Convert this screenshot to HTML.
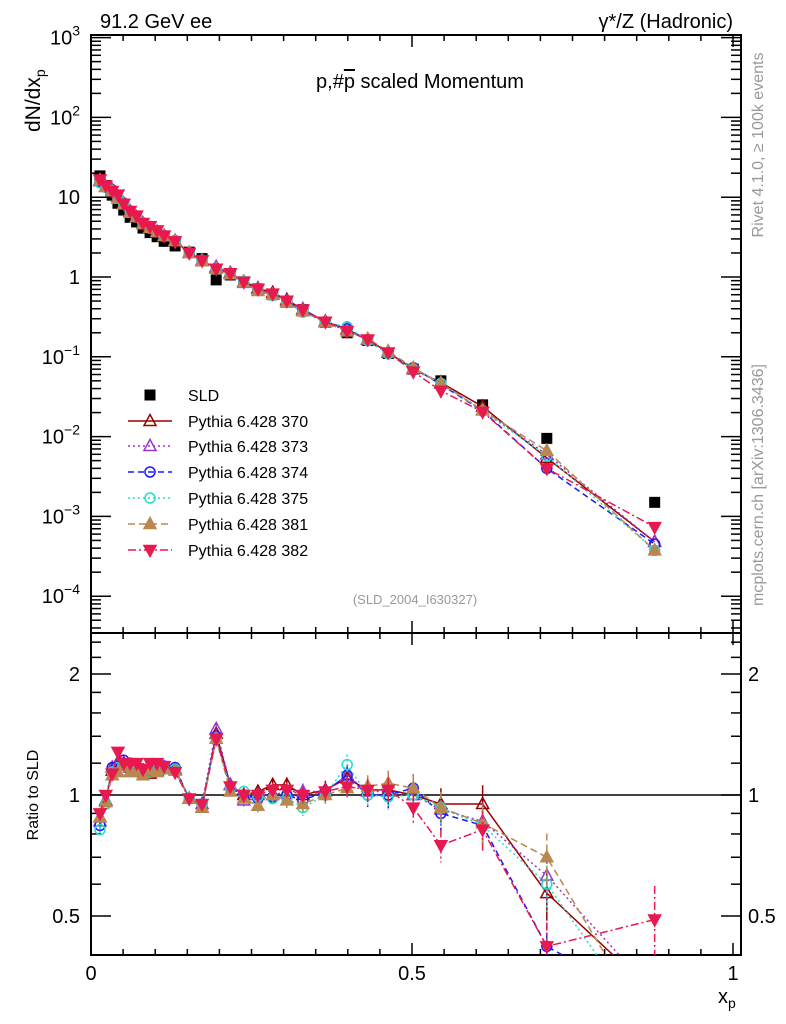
<!DOCTYPE html>
<html><head><meta charset="utf-8"><style>
html,body{margin:0;padding:0;background:#fff;width:786px;height:1024px;overflow:hidden}
svg{display:block;font-family:"Liberation Sans",sans-serif}
</style></head><body>
<svg id="c" width="786" height="1024" viewBox="0 0 786 1024">
<defs>
<clipPath id="cm"><rect x="91" y="35" width="650" height="598"/></clipPath>
<clipPath id="cr"><rect x="91" y="633" width="650" height="322"/></clipPath>
</defs>
<g id="axes"></g>
<g id="main" clip-path="url(#cm)"></g>
<g id="ratio" clip-path="url(#cr)"></g>
<g id="legend"></g>
<text x="100" y="28" font-size="20">91.2 GeV ee</text>
<text x="733" y="28" font-size="20" text-anchor="end">γ*/Z (Hadronic)</text>
<text x="420" y="88" font-size="20" text-anchor="middle">p,#<tspan text-decoration="overline">p</tspan> scaled Momentum</text>
<text x="415" y="604" font-size="13" fill="#999" text-anchor="middle">(SLD_2004_I630327)</text>
<text transform="translate(763,145) rotate(-90)" font-size="16" fill="#999" text-anchor="middle">Rivet 4.1.0, ≥ 100k events</text>
<text transform="translate(763,485) rotate(-90)" font-size="16" fill="#999" text-anchor="middle">mcplots.cern.ch [arXiv:1306.3436]</text>
<text transform="translate(40,132) rotate(-90)" font-size="21">dN/dx<tspan font-size="14" dy="5">p</tspan></text>
<text transform="translate(38,795) rotate(-90)" font-size="16" text-anchor="middle">Ratio to SLD</text>
<text x="718" y="1003" font-size="20">x<tspan font-size="14" dy="5">p</tspan></text>
</svg>
<script>
const xs=[0.014,0.023,0.033,0.042,0.051,0.061,0.071,0.081,0.092,0.103,0.114,0.131,0.153,0.173,0.195,0.217,0.238,0.26,0.283,0.305,0.33,0.365,0.399,0.431,0.463,0.502,0.545,0.61,0.71,0.878];
const sld=[18.5,14,10.6,8.4,6.9,5.6,4.9,4.1,3.6,3.2,2.8,2.45,2.05,1.7,0.92,1.06,0.87,0.71,0.6,0.49,0.39,0.27,0.2,0.16,0.11,0.07,0.05,0.025,0.0095,0.0015];
const r370=[0.88,0.97,1.15,1.2,1.2,1.18,1.15,1.15,1.13,1.15,1.17,1.16,0.98,0.93,1.42,1.06,1.0,1.02,1.06,1.06,1.0,1.03,1.1,1.03,1.03,1.0,0.95,0.95,0.57,0.32];
const r373=[0.86,0.97,1.17,1.21,1.2,1.17,1.15,1.14,1.15,1.16,1.17,1.16,0.98,0.95,1.46,1.06,0.97,1.0,1.0,1.02,1.02,1.02,1.12,1.02,1.02,1.0,0.92,0.86,0.63,0.32];
const r374=[0.84,0.95,1.17,1.18,1.22,1.2,1.18,1.16,1.15,1.17,1.18,1.17,0.98,0.95,1.4,1.04,1.0,0.98,0.99,1.0,0.97,1.02,1.12,1.0,1.0,1.04,0.9,0.84,0.42,0.3];
const r375=[0.82,0.95,1.14,1.17,1.19,1.18,1.15,1.15,1.14,1.15,1.16,1.16,0.98,0.95,1.38,1.04,1.02,0.99,0.98,0.98,0.93,1.0,1.19,1.0,0.99,1.0,0.93,0.84,0.6,0.25];
const r381=[0.88,0.96,1.12,1.14,1.18,1.14,1.15,1.12,1.15,1.14,1.16,1.15,0.98,0.93,1.38,1.02,0.98,0.94,1.0,0.97,0.95,1.0,1.04,1.05,1.07,1.04,0.93,0.85,0.7,0.25];
const r382=[0.9,1.0,1.13,1.28,1.2,1.2,1.2,1.16,1.2,1.2,1.18,1.14,0.98,0.95,1.38,1.05,1.0,1.0,1.03,1.03,1.0,1.02,1.05,1.03,1.03,0.93,0.75,0.82,0.42,0.49];
const names=["Pythia 6.428 370","Pythia 6.428 373","Pythia 6.428 374","Pythia 6.428 375","Pythia 6.428 381","Pythia 6.428 382"];
const yTicks=[3,2,1,0,-1,-2,-3,-4];
const rTicks=[0.5,1,2];

const NS="http://www.w3.org/2000/svg";
const X=x=>91+642*x;
const YM=v=>277-79.8*Math.log10(v);
const YR=r=>795-121*Math.log2(r);
function el(tag,attrs,parent){const e=document.createElementNS(NS,tag);for(const k in attrs)e.setAttribute(k,attrs[k]);parent.appendChild(e);return e;}
const axes=document.getElementById('axes'),gm=document.getElementById('main'),gr=document.getElementById('ratio'),gl=document.getElementById('legend');

let f1=el('rect',{x:91,y:35,width:650,height:598,fill:'none',stroke:'#000','stroke-width':2},axes);


let f2=el('rect',{x:91,y:633,width:650,height:322,fill:'none',stroke:'#000','stroke-width':2},axes);


for(let i=0;i<=20;i++){const x=X(i*0.05);const L=(i%10==0)?12:6;
 for(const [yt,yb] of [[35,633],[633,955]]){
  el('line',{x1:x,x2:x,y1:yt,y2:yt+L,stroke:'#000','stroke-width':1.5},axes);
  el('line',{x1:x,x2:x,y1:yb,y2:yb-L,stroke:'#000','stroke-width':1.5},axes);}}
[[0,'0'],[0.5,'0.5'],[1,'1']].forEach(([v,t])=>{const e=el('text',{x:X(v),y:980,'font-size':20,'text-anchor':'middle'},axes);e.textContent=t;
 
 });
for(let d=-5;d<=3;d++){for(let m=1;m<10;m++){const v=m*Math.pow(10,d);const y=YM(v);if(y<35||y>633)continue;const L=m==1?20:10;
 el('line',{x1:91,x2:91+L,y1:y,y2:y,stroke:'#000','stroke-width':1.5},axes);
 el('line',{x1:741,x2:741-L,y1:y,y2:y,stroke:'#000','stroke-width':1.5},axes);}}
yTicks.forEach(p=>{const y=YM(Math.pow(10,p));const t=el('text',{x:80,y:y+7,'font-size':20,'text-anchor':'end'},axes);
 
 
 if(p==0)t.textContent='1';else if(p==1)t.textContent='10';else{t.textContent='10';const s=el('tspan',{'font-size':14,dy:-9},t);s.textContent=String(p).replace('-','−');}});
[0.4,0.5,0.6,0.7,0.8,0.9,1,1.2,1.4,1.6,1.8,2,2.2,2.4].forEach(r=>{const y=YR(r);const L=(r==0.5||r==1||r==2)?20:10;
 el('line',{x1:91,x2:91+L,y1:y,y2:y,stroke:'#000','stroke-width':1.5},axes);
 el('line',{x1:741,x2:741-L,y1:y,y2:y,stroke:'#000','stroke-width':1.5},axes);});
rTicks.forEach(r=>{const y=YR(r);
 const a=el('text',{x:80,y:y+7,'font-size':20,'text-anchor':'end'},axes);a.textContent=String(r);
 
 
 const b=el('text',{x:748,y:y+7,'font-size':20},axes);b.textContent=String(r);
 
 });
const rl=el('line',{x1:91,x2:741,y1:YR(1),y2:YR(1),stroke:'#000','stroke-width':1.5},gr);



const styles=[
 {c:'#990000',d:'',m:'tri',fill:false},
 {c:'#9933cc',d:'2,3',m:'tri',fill:false},
 {c:'#1a1aff',d:'6,4',m:'circ',fill:false},
 {c:'#22ddcc',d:'2,3',m:'circ',fill:false},
 {c:'#b88850',d:'7,4',m:'tri',fill:true},
 {c:'#e8194e',d:'8,3,2,3',m:'tdn',fill:true}];
const ratios=[r370,r373,r374,r375,r381,r382];
function marker(g,s,x,y,nm){let e;
 if(s.m=='circ')e=el('circle',{cx:x,cy:y,r:5},g);
 else if(s.m=='tri')e=el('polygon',{points:`${x},${y-6.5} ${x-6},${y+4.5} ${x+6},${y+4.5}`},g);
 else e=el('polygon',{points:`${x},${y+6.5} ${x-6},${y-4.5} ${x+6},${y-4.5}`},g);
 e.setAttribute('fill',s.fill?s.c:'none');e.setAttribute('stroke',s.c);e.setAttribute('stroke-width',1.5);
 
 
 return e;}
function relerr(x){return 0.02+0.25*x*x;}
xs.forEach((x,i)=>{const y=YM(sld[i]);const q=el('rect',{x:X(x)-5.5,y:y-5.5,width:11,height:11,fill:'#000'},gm);
 
 });
ratios.forEach((rr,k)=>{const s=styles[k];
 const gmk=el('g',{},gm),grk=el('g',{},gr);
 
 
 
 
 const pm=xs.map((x,i)=>X(x)+','+YM(sld[i]*rr[i])).join(' ');
 const pr=xs.map((x,i)=>X(x)+','+YR(rr[i])).join(' ');
 el('polyline',{points:pm,fill:'none',stroke:s.c,'stroke-width':1.5,'stroke-dasharray':s.d},gmk);
 el('polyline',{points:pr,fill:'none',stroke:s.c,'stroke-width':1.5,'stroke-dasharray':s.d},grk);
 xs.forEach((x,i)=>{const e=relerr(x);
  el('line',{x1:X(x),x2:X(x),y1:YR(rr[i]*(1+e)),y2:YR(rr[i]*(1-e)),stroke:s.c,'stroke-width':1.5,'stroke-dasharray':s.d},grk);
  marker(gmk,s,X(x),YM(sld[i]*rr[i]),'mc-point');
  marker(grk,s,X(x),YR(rr[i]),'ratio-point');});
});
const ly=[395,421,446,472,498,524,550];
let sq=el('rect',{x:144.5,y:ly[0]-5.5,width:11,height:11,fill:'#000'},gl);


let lt=el('text',{x:188,y:ly[0]+6,'font-size':16},gl);lt.textContent='SLD';


names.forEach((n,k)=>{const s=styles[k],y=ly[k+1];
 el('line',{x1:128,x2:172,y1:y,y2:y,stroke:s.c,'stroke-width':1.5,'stroke-dasharray':s.d},gl);
 marker(gl,s,150,y,'legend-marker');
 const t=el('text',{x:188,y:y+6,'font-size':16},gl);t.textContent=n;
 
 });
</script>
</body></html>
